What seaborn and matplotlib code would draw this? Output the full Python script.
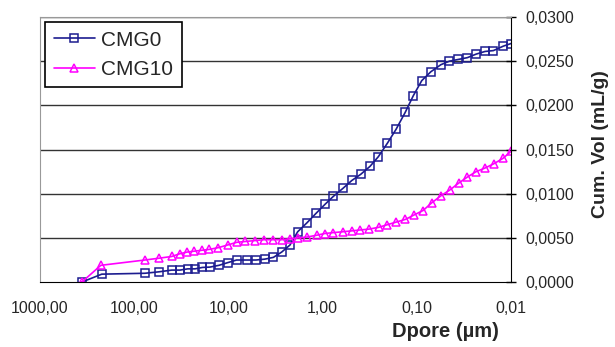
import numpy as np
import pandas as pd
import seaborn as sns
import matplotlib.pyplot as plt
from matplotlib.ticker import FixedLocator, FuncFormatter, NullLocator

# Data
cmg0_d = [360, 221, 77, 54, 40, 32.7, 27, 22.6, 18.9, 15.7, 12.6, 10.2, 8.2, 6.4, 5.1, 4.1,
          3.33, 2.72, 2.22, 1.84, 1.47, 1.17, 0.944, 0.77, 0.61, 0.49, 0.394, 0.314, 0.256,
          0.206, 0.166, 0.133, 0.109, 0.0887, 0.0711, 0.0557, 0.0452, 0.0362, 0.0291,
          0.0235, 0.0189, 0.0154, 0.0121, 0.0100]
cmg0_v = [0.0, 0.0009, 0.0010, 0.00117, 0.00136, 0.00136, 0.0015, 0.0015, 0.00166, 0.0017,
          0.0019, 0.0022, 0.0025, 0.0025, 0.0025, 0.0026, 0.0028, 0.0034, 0.0042, 0.0057,
          0.0067, 0.0078, 0.0088, 0.0097, 0.0106, 0.0115, 0.0122, 0.0131, 0.0142, 0.0157,
          0.0173, 0.0192, 0.0211, 0.0228, 0.0238, 0.0246, 0.0250, 0.0252, 0.0254, 0.0258,
          0.0261, 0.0262, 0.0267, 0.0270]

cmg10_d = [360, 226, 77, 55, 40, 33, 27.5, 23, 19.3, 16, 12.8, 10.2, 8.2, 6.6, 5.2, 4.2,
           3.4, 2.72, 2.22, 1.83, 1.47, 1.16, 0.95, 0.77, 0.61, 0.49, 0.40, 0.32, 0.255,
           0.205, 0.165, 0.132, 0.107, 0.086, 0.069, 0.055, 0.045, 0.036, 0.029, 0.0235,
           0.019, 0.0152, 0.0122, 0.0100]
cmg10_v = [0.0, 0.0019, 0.0025, 0.0027, 0.0029, 0.0032, 0.0034, 0.0035, 0.0036, 0.0037,
           0.0039, 0.0042, 0.0045, 0.0046, 0.0047, 0.0048, 0.0048, 0.0048, 0.0049, 0.0050,
           0.0051, 0.0053, 0.0055, 0.0056, 0.0057, 0.0058, 0.0059, 0.0060, 0.0062, 0.0065,
           0.0068, 0.0071, 0.0076, 0.0081, 0.0090, 0.0098, 0.0104, 0.0112, 0.0119, 0.0125,
           0.0129, 0.0134, 0.0140, 0.0148]

x_ticks = [1000, 100, 10, 1, 0.1, 0.01]
y_ticks = [0.0, 0.005, 0.010, 0.015, 0.020, 0.025, 0.030]

sns.set_style("white")
plt.rcParams['font.family'] = ['Liberation Sans', 'DejaVu Sans']

fig = plt.figure(figsize=(6.15, 3.47), dpi=100)
ax = fig.add_axes([0.065, 0.187, 0.766, 0.764])

df0 = pd.DataFrame({'d': cmg0_d, 'v': cmg0_v})
df10 = pd.DataFrame({'d': cmg10_d, 'v': cmg10_v})

sns.lineplot(data=df0, x='d', y='v', ax=ax, sort=False, color='#1c1c90', lw=1.2,
             marker='s', markersize=5.5, markerfacecolor='none', markeredgecolor='#1c1c90',
             markeredgewidth=1.1, label='CMG0')
sns.lineplot(data=df10, x='d', y='v', ax=ax, sort=False, color='#ff00ff', lw=1.2,
             marker='^', markersize=6, markerfacecolor='none', markeredgecolor='#ff00ff',
             markeredgewidth=1.1, label='CMG10')

ax.set_xscale('log')
ax.set_xlim(1000, 0.01)
ax.set_ylim(0, 0.03)
ax.xaxis.set_major_locator(FixedLocator(x_ticks))
ax.xaxis.set_minor_locator(NullLocator())
ax.xaxis.set_major_formatter(FuncFormatter(lambda v, p: ('%.2f' % v).replace('.', ',')))
ax.set_yticks(y_ticks)
ax.yaxis.set_major_formatter(FuncFormatter(lambda v, p: ('%.4f' % v).replace('.', ',')))

ax.yaxis.tick_right()
ax.yaxis.set_label_position('right')
ax.tick_params(axis='both', which='major', direction='inout', length=7, width=1,
               labelsize=11.5, color='black')
ax.tick_params(axis='x', pad=10)
ax.tick_params(axis='y', pad=7)

for y in y_ticks[1:]:
    ax.axhline(y, color='#333333', lw=1, zorder=0)

ax.spines['left'].set_color('#999999')
ax.spines['top'].set_color('#999999')
ax.spines['right'].set_color('black')
ax.spines['bottom'].set_color('black')

ax.set_xlabel('Dpore (µm)', fontsize=14.5, fontweight='bold')
ax.xaxis.set_label_coords(0.86, -0.15)
ax.set_ylabel('Cum. Vol (mL/g)', fontsize=14, fontweight='bold', rotation=90)
ax.yaxis.set_label_coords(1.172, 0.52)

leg = ax.legend(loc='upper left', bbox_to_anchor=(0.0, 1.0), fontsize=15, frameon=True,
                fancybox=False, edgecolor='black', framealpha=1, borderpad=0.4,
                handlelength=2.0, handletextpad=0.3, labelspacing=0.5, borderaxespad=0.25)
leg.get_frame().set_linewidth(1.2)

fig.savefig('out.png', dpi=100)
